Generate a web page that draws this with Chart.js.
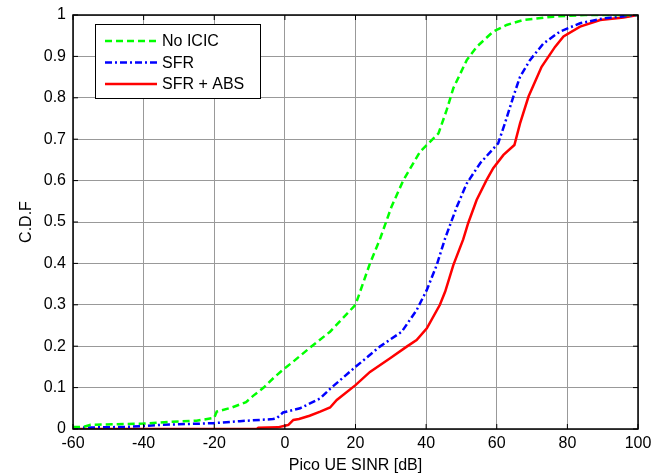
<!DOCTYPE html>
<html><head><meta charset="utf-8">
<script src="https://cdn.jsdelivr.net/npm/chart.js@4/dist/chart.umd.min.js"></script>
<style>html,body{margin:0;padding:0;background:#fff}#wrap{width:651px;height:475px}</style>
</head><body><div id="wrap"><canvas id="c" width="651" height="475"></canvas></div>
<script>
const xTicks = [-60,-40,-20,0,20,40,60,80,100];
const yTicks = [0,0.1,0.2,0.3,0.4,0.5,0.6,0.7,0.8,0.9,1];
const yTickLabels = ['0','0.1','0.2','0.3','0.4','0.5','0.6','0.7','0.8','0.9','1'];
const seriesNames = ['No ICIC','SFR','SFR + ABS'];
const noIcicX = [-60,-57,-55,-45,-40,-33,-25,-20,-19.3,-15,-11,-9,-6,-3,0,2.4,7.6,12.8,20,24.1,26.9,30.2,33.5,38.3,43.5,45.8,47.7,51.5,54.3,59,62.8,67.5,76,80,85,100];
const noIcicY = [0.005,0.005,0.01,0.012,0.013,0.017,0.02,0.027,0.042,0.052,0.065,0.08,0.1,0.125,0.147,0.163,0.2,0.235,0.30,0.40,0.458,0.537,0.60,0.67,0.714,0.77,0.823,0.891,0.923,0.96,0.976,0.988,0.996,0.998,1,1];
const sfrX = [-60,-45,-40,-35,-20.3,-12.7,-3.4,-2.3,-0.5,4.3,10,12.8,20,26.9,33.1,37.3,40.2,43,45.4,48.7,51.5,55.3,60.4,62.3,64.7,66.6,69.4,73.2,77.9,83.6,90.2,100];
const sfrY = [0.003,0.005,0.007,0.01,0.014,0.019,0.024,0.026,0.04,0.05,0.074,0.097,0.15,0.199,0.235,0.287,0.336,0.396,0.461,0.537,0.593,0.642,0.69,0.738,0.803,0.851,0.891,0.931,0.96,0.98,0.992,1];
const sfrAbsX = [-60,-8,-7.5,-2,0,1,2.4,4,7,10,12.8,14.7,20,24.1,29.8,34.5,37.3,40.2,43.9,45.4,47.7,50.5,51.9,54.3,57.1,59,61.9,65,66.6,69,72.7,76.5,78.9,83.6,89.3,95.9,100];
const sfrAbsY = [0,0,0.003,0.004,0.008,0.01,0.022,0.024,0.032,0.042,0.052,0.07,0.106,0.138,0.171,0.199,0.215,0.243,0.30,0.332,0.396,0.458,0.497,0.553,0.601,0.63,0.662,0.686,0.738,0.803,0.875,0.923,0.948,0.972,0.988,0.994,1];

const pts = (xs, ys) => xs.map((x, i) => ({x, y: ys[i]}));
const FONT = 'Liberation Sans, Arial, sans-serif';

const framePlugin = {
  id: 'frame',
  afterDatasetsDraw(chart) {
    const ctx = chart.ctx, a = chart.chartArea;
    const xs = chart.scales.x, ys = chart.scales.y;
    ctx.save();
    ctx.strokeStyle = '#000';
    ctx.lineWidth = 1.5;
    ctx.setLineDash([]);
    ctx.strokeRect(a.left, a.top, a.right - a.left, a.bottom - a.top);
    ctx.lineWidth = 1;
    ctx.beginPath();
    xTicks.forEach(v => {
      const p = xs.getPixelForValue(v);
      ctx.moveTo(p, a.bottom); ctx.lineTo(p, a.bottom - 5);
      ctx.moveTo(p, a.top); ctx.lineTo(p, a.top + 5);
    });
    yTicks.forEach(v => {
      const p = ys.getPixelForValue(v);
      ctx.moveTo(a.left, p); ctx.lineTo(a.left + 5, p);
      ctx.moveTo(a.right, p); ctx.lineTo(a.right - 5, p);
    });
    ctx.stroke();
    // legend
    const bx = 95, by = 24, bw = 165, bh = 74;
    ctx.fillStyle = '#fff';
    ctx.fillRect(bx, by, bw, bh);
    ctx.strokeStyle = '#000';
    ctx.lineWidth = 1;
    ctx.strokeRect(bx + 0.5, by + 0.5, bw, bh);
    ctx.font = '16px ' + FONT;
    ctx.textBaseline = 'middle';
    chart.data.datasets.forEach((ds, i) => {
      const yy = 41 + i * 21.5;
      ctx.strokeStyle = ds.borderColor;
      ctx.lineWidth = ds.borderWidth;
      ctx.setLineDash(ds.borderDash || []);
      ctx.beginPath();
      ctx.moveTo(105, yy); ctx.lineTo(157, yy);
      ctx.stroke();
      ctx.setLineDash([]);
      ctx.fillStyle = '#000';
      ctx.fillText(ds.label, 162, yy + 1);
    });
    ctx.restore();
  }
};

new Chart(document.getElementById('c'), {
  type: 'scatter',
  data: {
    datasets: [
      {label: seriesNames[0], data: pts(noIcicX, noIcicY), borderColor: '#00ff00', borderWidth: 2.5, borderDash: [7, 4], showLine: true, pointRadius: 0, tension: 0},
      {label: seriesNames[1], data: pts(sfrX, sfrY), borderColor: '#0000ff', borderWidth: 2.5, borderDash: [7, 3, 2, 3], showLine: true, pointRadius: 0, tension: 0},
      {label: seriesNames[2], data: pts(sfrAbsX, sfrAbsY), borderColor: '#ff0000', borderWidth: 2.5, showLine: true, pointRadius: 0, tension: 0}
    ]
  },
  options: {
    responsive: false,
    animation: false,
    layout: {padding: {left: 17, right: 13, top: 15, bottom: 0}},
    plugins: {legend: {display: false}, tooltip: {enabled: false}},
    scales: {
      x: {
        type: 'linear', min: -60, max: 100,
        afterBuildTicks: s => { s.ticks = xTicks.map(v => ({value: v})); },
        afterFit: s => { s.height = 46; s.paddingLeft = 0; s.paddingRight = 0; },
        grid: {color: '#999', lineWidth: 1, drawTicks: false},
        border: {display: false},
        ticks: {color: '#000', font: {family: FONT, size: 16}, padding: 5, maxRotation: 0},
        title: {display: true, text: 'Pico UE SINR [dB]', color: '#000', font: {family: FONT, size: 16}, padding: {top: 0, bottom: 0}}
      },
      y: {
        type: 'linear', min: 0, max: 1,
        afterBuildTicks: s => { s.ticks = yTicks.map(v => ({value: v})); },
        afterFit: s => { s.width = 56; s.paddingTop = 0; s.paddingBottom = 0; },
        grid: {color: '#999', lineWidth: 1, drawTicks: false},
        border: {display: false},
        ticks: {color: '#000', font: {family: FONT, size: 16}, padding: 7,
          callback: (v) => yTickLabels[yTicks.indexOf(Math.round(v * 10) / 10)] ?? ''},
        title: {display: true, text: 'C.D.F', color: '#000', font: {family: FONT, size: 16}, padding: {top: 0, bottom: 0}}
      }
    }
  },
  plugins: [framePlugin]
});
</script></body></html>
